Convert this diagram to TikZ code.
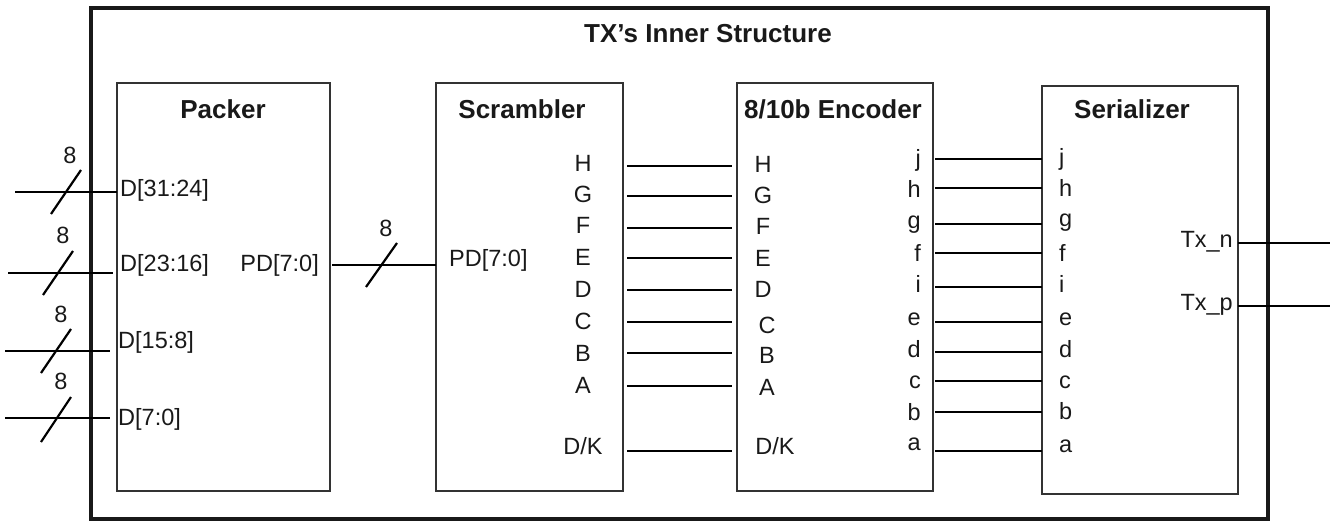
\documentclass[tikz,border=0pt]{standalone}
\usepackage{fontspec}
\setmainfont{Liberation Sans}
\begin{document}
\begin{tikzpicture}[x=1pt,y=-1pt,
  blk/.style={draw=black!80, line width=1.8pt, inner sep=0pt},
  outer/.style={draw=black!90, line width=4pt, inner sep=0pt},
  wire/.style={draw=black, line width=1.8pt},
  busmark/.style={draw=black, line width=2.2pt},
  lbl/.style={font=\fontsize{23.5}{28}\selectfont, inner sep=0pt, text=black!90},
  ttl/.style={font=\fontsize{26}{30}\selectfont\bfseries, inner sep=0pt, text=black!90}]
\useasboundingbox (0,0) rectangle (1333,521);

% outer frame and blocks
\node[outer, minimum width=1177pt, minimum height=511pt] (frame) at (679.5,263.5) {};
\node[ttl, anchor=base] (ttlmain) at (708,43) {TX’s Inner Structure};

\node[blk, minimum width=213pt, minimum height=408pt] (pk) at (223.5,287) {};
\node[blk, minimum width=187pt, minimum height=408pt] (sc) at (529.5,287) {};
\node[blk, minimum width=196pt, minimum height=408pt] (en) at (835,287) {};
\node[blk, minimum width=196pt, minimum height=408pt] (se) at (1140,290) {};

\node[ttl, anchor=base] (tpk) at (223,119) {Packer};
\node[ttl, anchor=base] (tsc) at (522,119) {Scrambler};
\node[ttl, anchor=base] (ten) at (833,119) {8/10b Encoder};
\node[ttl, anchor=base] (tse) at (1132,119) {Serializer};

% packer inputs
\node[lbl, anchor=base west] (d1) at (120,197) {D[31:24]};
\node[lbl, anchor=base west] (d2) at (120,272) {D[23:16]};
\node[lbl, anchor=base west] (d3) at (118,348) {D[15:8]};
\node[lbl, anchor=base west] (d4) at (118,425) {D[7:0]};

\coordinate (i1) at (15,192);  \coordinate (e1) at (117,192);
\coordinate (i2) at (8,273);   \coordinate (e2) at (113,273);
\coordinate (i3) at (5,351);   \coordinate (e3) at (110,351);
\coordinate (i4) at (5,418);   \coordinate (e4) at (110,418);
\draw[wire] (i1) -- (e1);
\draw[wire] (i2) -- (e2);
\draw[wire] (i3) -- (e3);
\draw[wire] (i4) -- (e4);

\draw[busmark] (51,214) -- (81,170);
\draw[busmark] (43,295) -- (73,251);
\draw[busmark] (41,373) -- (71,329);
\draw[busmark] (41,442) -- (71,397);
\node[lbl] (w1) at (70,155) {8};
\node[lbl] (w2) at (63,235) {8};
\node[lbl] (w3) at (61,314) {8};
\node[lbl] (w4) at (61,381) {8};

% packer -> scrambler
\node[lbl, anchor=base east] (pdo) at (319,272) {PD[7:0]};
\node[lbl, anchor=base west] (pdi) at (449,267) {PD[7:0]};
\coordinate (pds) at (332,265); \coordinate (pde) at (436,265);
\draw[wire] (pds) -- (pde);
\draw[busmark] (366,287) -- (397,243);
\node[lbl] (w5) at (386,228) {8};

% scrambler outputs and encoder inputs
\foreach \n/\t/\ys/\ye/\xe/\yl in {H/H/172/173/763/166, G/G/203/204/763/196, F/F/234/235/763/228,
  E/E/266/267/763/258, D/D/298/298/763/290, C/C/330/333/767/322, B/B/361/363/767/353,
  A/A/393/395/767/386, K/D\slash K/454/454/775/451} {
  \node[lbl, anchor=base] (so\n) at (583,\ys) {\t};
  \node[lbl, anchor=base] (ei\n) at (\xe,\ye) {\t};
  \coordinate (sa\n) at (627,\yl);
  \coordinate (sb\n) at (732,\yl);
  \draw[wire] (sa\n) -- (sb\n);
}

% encoder outputs and serializer inputs
\foreach \n/\yo/\yi/\yl in {j/167/166/159, h/198/197/188, g/229/227/224, f/262/262/253,
  i/293/293/287, e/325/325/322, d/357/357/352, c/388/388/381, b/420/419/412, a/450/452/451} {
  \node[lbl, anchor=base east] (eo\n) at (921,\yo) {\n};
  \node[lbl, anchor=base west] (si\n) at (1059,\yi) {\n};
  \coordinate (ea\n) at (935,\yl);
  \coordinate (eb\n) at (1042,\yl);
  \draw[wire] (ea\n) -- (eb\n);
}

% serializer outputs
\node[lbl, anchor=base east] (txn) at (1233,248) {Tx\_n};
\node[lbl, anchor=base east] (txp) at (1233,311) {Tx\_p};
\coordinate (tna) at (1238,243); \coordinate (tnb) at (1330,243);
\coordinate (tpa) at (1238,306); \coordinate (tpb) at (1330,306);
\draw[wire] (tna) -- (tnb);
\draw[wire] (tpa) -- (tpb);
\end{tikzpicture}
\end{document}
